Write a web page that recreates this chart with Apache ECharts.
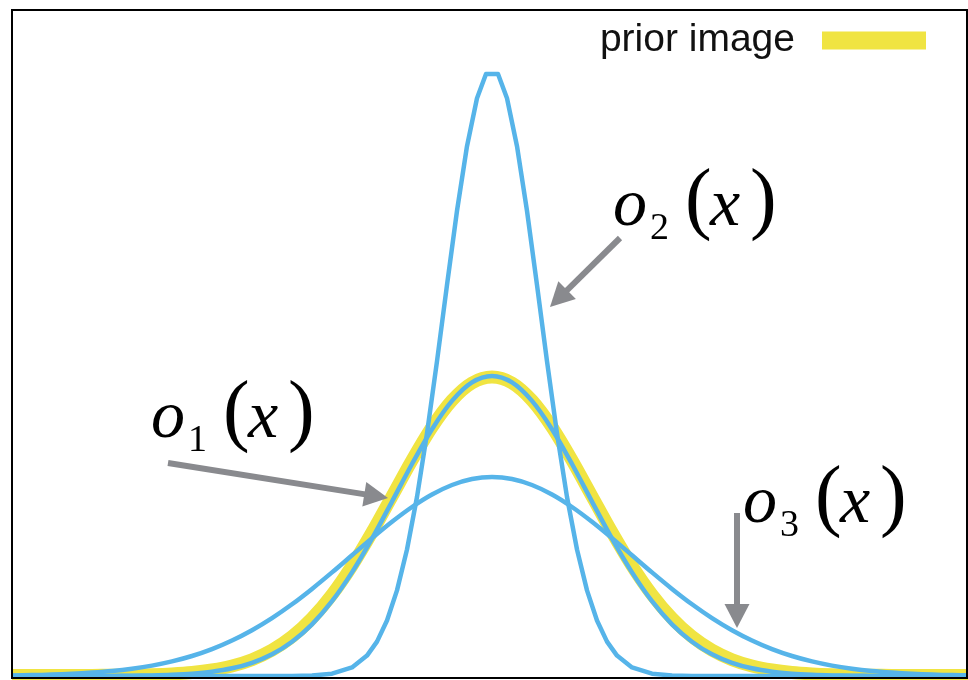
<!DOCTYPE html>
<html>
<head>
<meta charset="utf-8">
<script src="https://cdn.jsdelivr.net/npm/echarts@6/dist/echarts.min.js"></script>
<style>
  html, body { margin: 0; padding: 0; background: #ffffff; }
  #chart { width: 968px; height: 680px; }
</style>
</head>
<body>
<div id="chart"></div>
<script>
// Sample positions shared by the wide curves
const xs = [-4.8, -4.6, -4.4, -4.2, -4.0, -3.8, -3.6, -3.4, -3.2, -3.0, -2.8, -2.6, -2.4, -2.2, -2.0, -1.8, -1.6, -1.4, -1.2, -1.0, -0.8, -0.6, -0.4, -0.2,
  0, 0.2, 0.4, 0.6, 0.8, 1.0, 1.2, 1.4, 1.6, 1.8, 2.0, 2.2, 2.4, 2.6, 2.8, 3.0, 3.2, 3.4, 3.6, 3.8, 4.0, 4.2, 4.4, 4.6, 4.8];

// prior image
const prior = [0.05, 0.05, 0.05, 0.05, 0.06, 0.07, 0.09, 0.13, 0.21, 0.35, 0.60, 1.00, 1.63, 2.58, 3.93, 5.77, 8.14, 11.03, 14.37, 17.97, 21.58, 24.89, 27.56, 29.30,
  29.90, 29.30, 27.56, 24.89, 21.58, 17.97, 14.37, 11.03, 8.14, 5.77, 3.93, 2.58, 1.63, 1.00, 0.60, 0.35, 0.21, 0.13, 0.09, 0.07, 0.06, 0.05, 0.05, 0.05, 0.05];

// o1(x)
const o1 = [0, 0, 0, 0, 0, 0.01, 0.03, 0.06, 0.12, 0.23, 0.43, 0.77, 1.32, 2.17, 3.43, 5.17, 7.48, 10.36, 13.73, 17.44, 21.20, 24.68, 27.51, 29.36,
  30.00, 29.36, 27.51, 24.68, 21.20, 17.44, 13.73, 10.36, 7.48, 5.17, 3.43, 2.17, 1.32, 0.77, 0.43, 0.23, 0.12, 0.06, 0.03, 0.01, 0, 0, 0, 0, 0];

// o3(x)
const o3 = [0.06, 0.09, 0.14, 0.22, 0.34, 0.50, 0.73, 1.04, 1.46, 2.00, 2.69, 3.55, 4.58, 5.79, 7.17, 8.71, 10.36, 12.07, 13.78, 15.42, 16.90, 18.15, 19.10, 19.70,
  19.90, 19.70, 19.10, 18.15, 16.90, 15.42, 13.78, 12.07, 10.36, 8.71, 7.17, 5.79, 4.58, 3.55, 2.69, 2.00, 1.46, 1.04, 0.73, 0.50, 0.34, 0.22, 0.14, 0.09, 0.06];

// o2(x) is narrow, so it has its own, denser sample positions
const xsNarrow = [-4.8, -2.5, -2.0, -1.8, -1.6, -1.4, -1.25, -1.15, -1.05, -0.95, -0.85, -0.75, -0.65, -0.55, -0.45, -0.35, -0.25, -0.15, -0.06,
  0.06, 0.15, 0.25, 0.35, 0.45, 0.55, 0.65, 0.75, 0.85, 0.95, 1.05, 1.15, 1.25, 1.4, 1.6, 1.8, 2.0, 2.5, 4.8];
const o2 = [0, 0, 0.01, 0.05, 0.23, 0.86, 2.04, 3.44, 5.55, 8.56, 12.65, 17.90, 24.26, 31.47, 39.10, 46.51, 52.98, 57.78, 60.20,
  60.20, 57.78, 52.98, 46.51, 39.10, 31.47, 24.26, 17.90, 12.65, 8.56, 5.55, 3.44, 2.04, 0.86, 0.23, 0.05, 0.01, 0, 0];

// Curve labels: subscript and anchor (left of the "o", on its baseline) in data units
const labelSubs = ['1', '2', '3'];
const labelAnchors = [[-3.39, 23.4], [1.23, 44.6], [2.53, 14.9]];

// Pointer arrows: start and tip in data units
const arrowFrom = [[-3.24, 21.3], [1.28, 43.8], [2.45, 16.3]];
const arrowTo = [[-1.04, 17.8], [0.58, 36.9], [2.45, 4.8]];

const YELLOW = '#F0E442';
const BLUE = '#56B4E9';
const GRAY = '#898a8e';

const chart = echarts.init(document.getElementById('chart'), null, { renderer: 'canvas' });

function pairs(x, y) { return x.map((v, i) => [v, y[i]]); }

function curve(name, x, y, color, width, smooth, z) {
  return {
    type: 'line', name: name, data: pairs(x, y),
    symbol: 'none', showSymbol: false, smooth: smooth,
    lineStyle: { color: color, width: width, cap: 'butt', join: 'round' },
    itemStyle: { color: color }, z: z, silent: true
  };
}

chart.setOption({
  animation: false,
  backgroundColor: '#ffffff',
  grid: { left: 12, right: 1, top: 10, bottom: 2, show: false },
  xAxis: { type: 'value', min: -4.8, max: 4.75, show: false, splitLine: { show: false } },
  yAxis: { type: 'value', min: -0.2, max: 66.6, show: false, splitLine: { show: false } },
  legend: {
    data: ['prior image'], right: 42, top: 21, padding: 0,
    align: 'right', icon: 'rect', itemWidth: 104, itemHeight: 18,
    itemStyle: { borderWidth: 0 }, selectedMode: false,
    textStyle: { fontFamily: 'Liberation Sans', fontSize: 39, color: '#111111', padding: [0, 22, 0, 0] }
  },
  series: [
    curve('prior image', xs, prior, YELLOW, 13, 0.3, 2),
    curve('o1(x)', xs, o1, BLUE, 4.5, 0.3, 3),
    curve('o2(x)', xsNarrow, o2, BLUE, 4.5, false, 3),
    curve('o3(x)', xs, o3, BLUE, 4.5, 0.3, 3)
  ]
});

// Annotations (frame, arrows, math labels) placed through the axes
function toPx(p) { return chart.convertToPixel({ xAxisIndex: 0, yAxisIndex: 0 }, p); }

const gfx = [];
const tl = toPx([-4.8, 66.6]);
const br = toPx([4.75, -0.2]);
gfx.push({
  type: 'rect', z: 100, silent: true,
  shape: { x: tl[0], y: tl[1], width: br[0] - tl[0], height: br[1] - tl[1] },
  style: { fill: 'none', stroke: '#000000', lineWidth: 2 }
});

arrowFrom.forEach((from, i) => {
  const s = toPx(from), t = toPx(arrowTo[i]);
  const dx = t[0] - s[0], dy = t[1] - s[1];
  const len = Math.sqrt(dx * dx + dy * dy);
  const ux = dx / len, uy = dy / len, nx = -uy, ny = ux;
  const headLen = 24, headHalf = 12.5;
  const bx = t[0] - ux * headLen, by = t[1] - uy * headLen;
  gfx.push({
    type: 'line', z: 60, silent: true,
    shape: { x1: s[0], y1: s[1], x2: bx + ux, y2: by + uy },
    style: { stroke: GRAY, lineWidth: 6, lineCap: 'butt' }
  });
  gfx.push({
    type: 'polygon', z: 60, silent: true,
    shape: { points: [[t[0], t[1]], [bx + nx * headHalf, by + ny * headHalf], [bx - nx * headHalf, by - ny * headHalf]] },
    style: { fill: GRAY }
  });
});

function mathText(text, x, y, font) {
  return {
    type: 'text', z: 70, silent: true, x: x, y: y,
    style: { text: text, font: font, fill: '#000000', align: 'left', verticalAlign: 'middle', textAlign: 'left', textVerticalAlign: 'middle' }
  };
}

const ITALIC = 'italic 68px "Liberation Serif"';
const PAREN = '80px "Liberation Serif"';
const SUB = '38px "Liberation Serif"';
labelAnchors.forEach((a, i) => {
  const p = toPx(a);
  const x0 = p[0], b = p[1];
  gfx.push(mathText('o', x0 - 2, b - 23, ITALIC));
  gfx.push(mathText(labelSubs[i], x0 + 35, b - 1, SUB));
  gfx.push(mathText('(', x0 + 70, b - 27, PAREN));
  gfx.push(mathText('x', x0 + 95, b - 23, ITALIC));
  gfx.push(mathText(')', x0 + 135, b - 27, PAREN));
});

chart.setOption({ graphic: { elements: gfx } });
</script>
</body>
</html>
